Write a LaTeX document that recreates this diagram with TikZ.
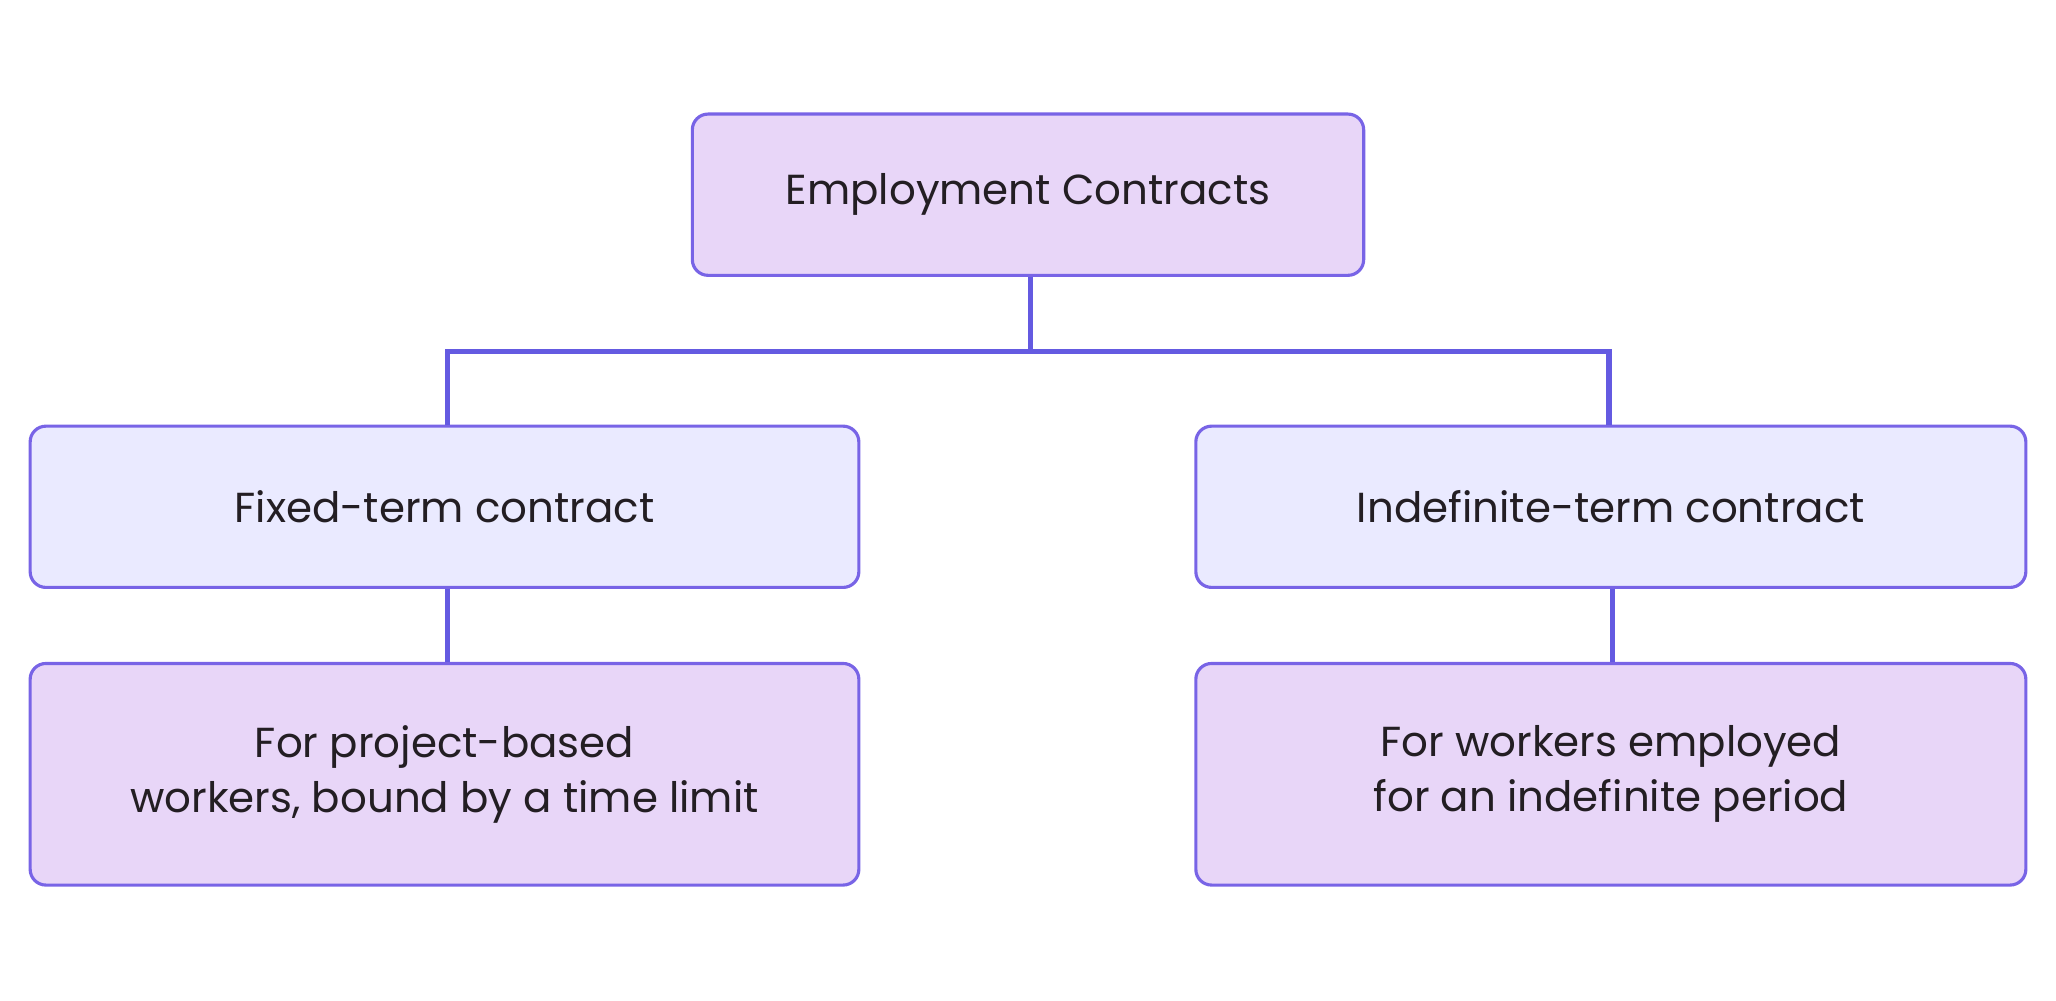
\documentclass[tikz,border=0pt]{standalone}
\usepackage{fontspec}
\setmainfont{Poppins}
\definecolor{bord}{RGB}{120,100,230}
\definecolor{lnk}{RGB}{100,90,225}
\definecolor{purp}{RGB}{232,214,248}
\definecolor{lav}{RGB}{234,234,255}
\begin{document}
\begin{tikzpicture}[x=0.5pt,y=-0.5pt,
 box/.style={draw=bord,line width=1.2pt,rounded corners=6pt,align=center,font=\fontsize{16}{21}\selectfont\color[RGB]{35,30,35}},
 lk/.style={draw=lnk,line width=2pt}]
\useasboundingbox (0,0) rectangle (1568,763);
\node[box,fill=purp,minimum width=256pt,minimum height=61.5pt] (top) at (784,148.5) {Employment Contracts};
\node[box,fill=lav,minimum width=316pt,minimum height=61.5pt] (fl) at (339,386.5) {Fixed-term contract};
\node[box,fill=lav,minimum width=316.5pt,minimum height=61.5pt] (fr) at (1228.5,386.5) {Indefinite-term contract};
\node[box,fill=purp,minimum width=316pt,minimum height=84.5pt] (bl) at (339,590.5) {For project-based\\workers, bound by a time limit};
\node[box,fill=purp,minimum width=316.5pt,minimum height=84.5pt] (br) at (1228.5,590.5) {For workers employed\\for an indefinite period};
\coordinate (j) at (786,268);
\draw[lk] (top.south -| j) -- (j) -- (341,268) -- (fl.north -| 341,0);
\draw[lk] (j) -- (1227,268) -- (fr.north -| 1227,0);
\draw[lk] (fl.south -| 341,0) -- (bl.north -| 341,0);
\draw[lk] (fr.south -| 1230,0) -- (br.north -| 1230,0);
\end{tikzpicture}
\end{document}
